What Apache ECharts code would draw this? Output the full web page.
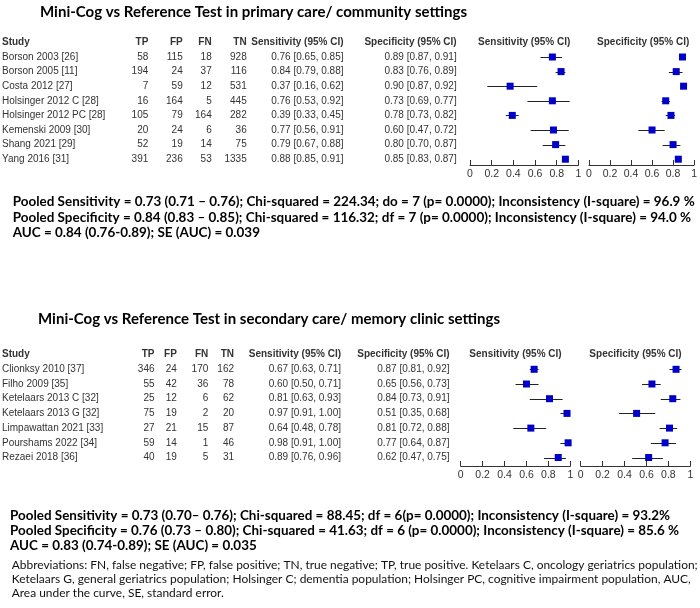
<!DOCTYPE html>
<html><head><meta charset="utf-8">
<script src="https://cdn.jsdelivr.net/npm/echarts/dist/echarts.min.js"></script>
<style>html,body{margin:0;padding:0;background:#fff}#c{width:700px;height:608px}</style>
</head><body><div id="c"></div>
<script>
// ---------- DATA ----------
const primaryStudies = ["Borson 2003 [26]","Borson 2005 [11]","Costa 2012 [27]","Holsinger 2012 C [28]","Holsinger 2012 PC [28]","Kemenski 2009 [30]","Shang 2021 [29]","Yang 2016 [31]"];
const primaryTP = [58,194,7,16,105,20,52,391];
const primaryFP = [115,24,59,164,79,24,19,236];
const primaryFN = [18,37,12,5,164,6,14,53];
const primaryTN = [928,116,531,445,282,36,75,1335];
const primarySens = [0.76,0.84,0.37,0.76,0.39,0.77,0.79,0.88];
const primarySensLo = [0.65,0.79,0.16,0.53,0.33,0.56,0.67,0.85];
const primarySensHi = [0.85,0.88,0.62,0.92,0.45,0.91,0.88,0.91];
const primarySpec = [0.89,0.83,0.90,0.73,0.78,0.60,0.80,0.85];
const primarySpecLo = [0.87,0.76,0.87,0.69,0.73,0.47,0.70,0.83];
const primarySpecHi = [0.91,0.89,0.92,0.77,0.82,0.72,0.87,0.87];

const secondaryStudies = ["Clionksy 2010 [37]","Filho 2009 [35]","Ketelaars 2013 C [32]","Ketelaars 2013 G [32]","Limpawattan 2021 [33]","Pourshams 2022 [34]","Rezaei 2018 [36]"];
const secondaryTP = [346,55,25,75,27,59,40];
const secondaryFP = [24,42,12,19,21,14,19];
const secondaryFN = [170,36,6,2,15,1,5];
const secondaryTN = [162,78,62,20,87,46,31];
const secondarySens = [0.67,0.60,0.81,0.97,0.64,0.98,0.89];
const secondarySensLo = [0.63,0.50,0.63,0.91,0.48,0.91,0.76];
const secondarySensHi = [0.71,0.71,0.93,1.00,0.78,1.00,0.96];
const secondarySpec = [0.87,0.65,0.84,0.51,0.81,0.77,0.62];
const secondarySpecLo = [0.81,0.56,0.73,0.35,0.72,0.64,0.47];
const secondarySpecHi = [0.92,0.73,0.91,0.68,0.88,0.87,0.75];

const axisTickValues = [0,0.2,0.4,0.6,0.8,1];
const tableHeaders = ["Study","TP","FP","FN","TN","Sensitivity (95% CI)","Specificity (95% CI)"];
const forestHeaders = ["Sensitivity (95% CI)","Specificity (95% CI)"];

const titles = ["Mini-Cog vs Reference Test in primary care/ community settings",
                "Mini-Cog vs Reference Test in secondary care/ memory clinic settings"];
const pooledPrimary = [
 "Pooled Sensitivity = 0.73 (0.71 \u2013 0.76); Chi-squared = 224.34; do = 7 (p= 0.0000); Inconsistency (I-square) = 96.9 %",
 "Pooled Specificity = 0.84 (0.83 \u2013 0.85); Chi-squared = 116.32; df = 7 (p= 0.0000); Inconsistency (I-square) = 94.0 %",
 "AUC = 0.84 (0.76-0.89); SE (AUC) = 0.039"];
const pooledSecondary = [
 "Pooled Sensitivity = 0.73 (0.70\u2013 0.76); Chi-squared = 88.45; df = 6(p= 0.0000); Inconsistency (I-square) = 93.2%",
 "Pooled Specificity = 0.76 (0.73 \u2013 0.80); Chi-squared = 41.63; df = 6 (p= 0.0000); Inconsistency (I-square) = 85.6 %",
 "AUC = 0.83 (0.74-0.89); SE (AUC) = 0.035"];
const abbreviations = [
 "Abbreviations: FN, false negative; FP, false positive; TN, true negative; TP, true positive. Ketelaars C, oncology geriatrics population;",
 "Ketelaars G, general geriatrics population; Holsinger C; dementia population; Holsinger PC, cognitive impairment population, AUC,",
 "Area under the curve, SE, standard error."];

// ---------- LAYOUT ----------
const TABLE_FONT = '"Liberation Sans", Arial, sans-serif';
const CAL_FONT = 'Lato, "Open Sans", sans-serif';
const TXT = '#333';

const panels = [
 {studies:primaryStudies,tp:primaryTP,fp:primaryFP,fn:primaryFN,tn:primaryTN,
  sens:primarySens,sensLo:primarySensLo,sensHi:primarySensHi,spec:primarySpec,specLo:primarySpecLo,specHi:primarySpecHi,
  rowTop:57,rowStep:14.6,axisY:165,sensX0:470,specX0:589,plotW:108.4,
  cols:{study:2,tp:148.3,fp:182.7,fn:211.7,tn:246.7,sens:343.5,spec:456.7}},
 {studies:secondaryStudies,tp:secondaryTP,fp:secondaryFP,fn:secondaryFN,tn:secondaryTN,
  sens:secondarySens,sensLo:secondarySensLo,sensHi:secondarySensHi,spec:secondarySpec,specLo:secondarySpecLo,specHi:secondarySpecHi,
  rowTop:369.3,rowStep:14.7,axisY:466,sensX0:460.7,specX0:580.7,plotW:109.6,
  cols:{study:2,tp:154.5,fp:176.8,fn:208.3,tn:234,sens:341,spec:449.5}}
];

const grid=[], xAxis=[], yAxis=[], series=[];

function forestItem(params, api){
  const est=api.value(0), lo=api.value(1), hi=api.value(2), row=api.value(3);
  const pE=api.coord([est,row]), pL=api.coord([lo,row]), pH=api.coord([hi,row]);
  const yy=Math.round(pE[1])+0.5;
  return {type:'group',children:[
    {type:'line',shape:{x1:pL[0],y1:yy,x2:pH[0],y2:yy},style:{stroke:'#222',lineWidth:1}},
    {type:'rect',shape:{x:pE[0]-3.5,y:pE[1]-3.5,width:7,height:7},style:{fill:'#0000c8'}}
  ]};
}

function txt(x,y,s,align,bold){
  return {type:'text',x:x,y:y,style:{text:s,align:align,verticalAlign:'middle',
    fontSize:10,fontWeight:bold?'bold':'normal',fontFamily:TABLE_FONT,fill:TXT}};
}

panels.forEach((p,k)=>{
  const top=p.rowTop-0.5*p.rowStep, height=p.axisY-top, yMax=height/p.rowStep-0.5;
  const gi=grid.length;
  grid.push({left:0,top:top,width:700,height:height});
  grid.push({left:p.sensX0,top:top,width:p.plotW,height:height});
  grid.push({left:p.specX0,top:top,width:p.plotW,height:height});
  xAxis.push({gridIndex:gi,type:'value',min:0,max:700,show:false});
  const fx = {type:'value',position:'bottom',min:axisTickValues[0],max:axisTickValues[axisTickValues.length-1],
    interval:axisTickValues[1]-axisTickValues[0],
    axisLine:{show:true,onZero:false,lineStyle:{color:'#333',width:1}},
    axisTick:{show:true,inside:true,length:5,lineStyle:{color:'#333'}},
    axisLabel:{show:true,fontSize:10.5,color:TXT,fontFamily:TABLE_FONT,margin:4},
    splitLine:{show:false}};
  xAxis.push(Object.assign({gridIndex:gi+1},fx));
  xAxis.push(Object.assign({gridIndex:gi+2},fx));
  for(let j=0;j<3;j++) yAxis.push({gridIndex:gi+j,type:'value',inverse:true,min:-0.5,max:yMax,show:false});
  const c=p.cols;
  series.push({type:'custom',xAxisIndex:gi,yAxisIndex:gi,silent:true,clip:false,
    data:p.studies.map((s,i)=>[0,i]),encode:{x:0,y:1},
    renderItem:function(params,api){
      const i=params.dataIndex; const y=api.coord([0,i])[1];
      return {type:'group',children:[
        txt(c.study,y,p.studies[i],'left'),
        txt(c.tp,y,String(p.tp[i]),'right'),
        txt(c.fp,y,String(p.fp[i]),'right'),
        txt(c.fn,y,String(p.fn[i]),'right'),
        txt(c.tn,y,String(p.tn[i]),'right'),
        txt(c.sens,y,p.sens[i].toFixed(2)+' ['+p.sensLo[i].toFixed(2)+', '+p.sensHi[i].toFixed(2)+']','right'),
        txt(c.spec,y,p.spec[i].toFixed(2)+' ['+p.specLo[i].toFixed(2)+', '+p.specHi[i].toFixed(2)+']','right')
      ]};
    }});
  series.push({type:'custom',xAxisIndex:gi,yAxisIndex:gi,silent:true,clip:false,
    data:[[0,-1]],encode:{x:0,y:1},
    renderItem:function(params,api){
      const y=api.coord([0,-1])[1];
      return {type:'group',children:[
        txt(c.study,y,tableHeaders[0],'left',true),
        txt(c.tp,y,tableHeaders[1],'right',true),
        txt(c.fp,y,tableHeaders[2],'right',true),
        txt(c.fn,y,tableHeaders[3],'right',true),
        txt(c.tn,y,tableHeaders[4],'right',true),
        txt(c.sens,y,tableHeaders[5],'right',true),
        txt(c.spec,y,tableHeaders[6],'right',true),
        txt(p.sensX0+p.plotW/2,y,forestHeaders[0],'center',true),
        txt(p.specX0+p.plotW/2,y,forestHeaders[1],'center',true)
      ]};
    }});
  series.push({type:'custom',xAxisIndex:gi+1,yAxisIndex:gi+1,silent:true,clip:false,
    data:p.sens.map((v,i)=>[v,p.sensLo[i],p.sensHi[i],i]),encode:{x:[0,1,2],y:3},renderItem:forestItem});
  series.push({type:'custom',xAxisIndex:gi+2,yAxisIndex:gi+2,silent:true,clip:false,
    data:p.spec.map((v,i)=>[v,p.specLo[i],p.specHi[i],i]),encode:{x:[0,1,2],y:3},renderItem:forestItem});
});

// ---------- free text (titles, pooled stats, footnote) ----------
const mctx=document.createElement('canvas').getContext('2d');
function measure(s,size,weight){ mctx.font=weight+' '+size+'px '+CAL_FONT; return mctx.measureText(s).width; }
function textEl(s,x,y,size,weight,sx,color){
  return {type:'text',x:x,y:y,scaleX:sx,scaleY:1,originX:0,originY:0,silent:true,
    style:{text:s,align:'left',verticalAlign:'middle',fontSize:size,fontWeight:weight,fontFamily:CAL_FONT,fill:color||'#000'}};
}
// block: lines share one horizontal scale, fitted on the first line's width
function block(lines,x,y0,dy,size,weight,firstW,color){
  const sx=firstW/measure(lines[0],size,weight);
  return lines.map((s,i)=>textEl(s,x,y0+i*dy,size,weight,sx,color));
}
const graphic=[].concat(
  [textEl(titles[0],40,12.5,14.5,'bold',427/measure(titles[0],14.5,'bold'))],
  [textEl(titles[1],38,319.5,14.5,'bold',462/measure(titles[1],14.5,'bold'))],
  block(pooledPrimary,12.7,202,15.5,12.5,'bold',682),
  block(pooledSecondary,10,516,15,12.5,'bold',660),
  block(abbreviations,11.7,565,14,11,'normal',686,'#111')
);

const chart=echarts.init(document.getElementById('c'),null,{renderer:'canvas'});
chart.setOption({animation:false,backgroundColor:'#fff',grid,xAxis,yAxis,series,graphic});
</script>
</body></html>
